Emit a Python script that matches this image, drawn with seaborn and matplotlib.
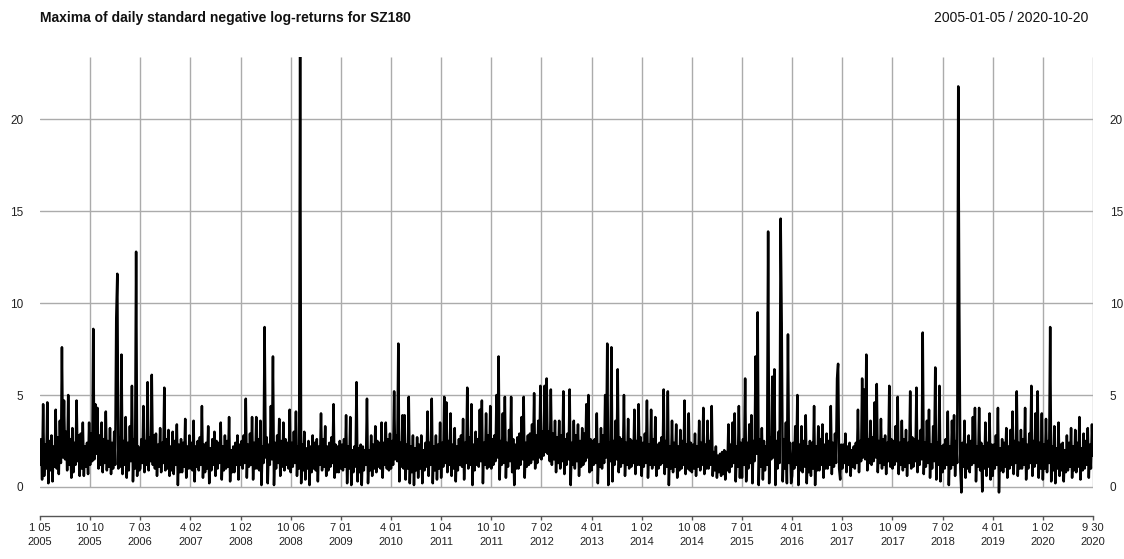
import numpy as np
import pandas as pd
import matplotlib
matplotlib.use("Agg")
import matplotlib.pyplot as plt
import seaborn as sns

title = "Maxima of daily standard negative log-returns for SZ180"
date_range = "2005-01-05 / 2020-10-20"

tick_labels = ["1 05\n2005", "10 10\n2005", "7 03\n2006", "4 02\n2007", "1 02\n2008",
               "10 06\n2008", "7 01\n2009", "4 01\n2010", "1 04\n2011", "10 10\n2011",
               "7 02\n2012", "4 01\n2013", "1 02\n2014", "10 08\n2014", "7 01\n2015",
               "4 01\n2016", "1 03\n2017", "10 09\n2017", "7 02\n2018", "4 01\n2019",
               "1 02\n2020", "9 30\n2020"]
y_ticks = [0, 5, 10, 15, 20]

# values, one list per labelled interval
v_2005_01 = [1.2, 2.6, 0.4, 4.5, 0.6, 2.3, 1.0, 4.6, 0.2, 2.5, 0.9, 2.8, 0.3, 2.2, 1.1, 4.2,
             1.0, 2.7, 0.7, 3.6, 1.3, 7.6, 1.6, 4.7, 1.5, 3.0, 0.9, 5.0, 1.2, 2.6, 0.5, 3.2,
             0.8, 2.4, 1.2, 4.7, 1.4, 2.8, 0.6, 2.9, 1.0, 3.5, 0.6, 2.2, 1.1, 2.4, 0.7, 3.5]
v_2005_10 = [1.2, 2.9, 1.4, 8.6, 1.5, 4.5, 1.8, 4.3, 1.0, 2.8, 1.2, 3.5, 0.8, 2.6, 1.3, 4.1,
             0.9, 2.5, 1.1, 3.2, 0.7, 2.4, 1.0, 3.0, 1.2, 9.2, 11.6, 1.0, 2.7, 1.1, 7.2, 0.7,
             2.5, 1.2, 3.8, 0.5, 2.4, 0.9, 3.3, 1.4, 5.5, 0.3, 2.6, 1.0, 12.8, 0.6, 2.2, 0.9]
v_2006_07 = [1.0, 2.6, 1.3, 4.4, 0.8, 2.5, 1.2, 5.7, 0.9, 2.7, 1.4, 6.1, 1.2, 2.8, 1.0, 2.9,
             0.6, 2.3, 1.1, 3.2, 0.8, 2.4, 1.3, 5.4, 0.9, 2.6, 1.0, 3.1, 0.6, 2.2, 0.9, 3.0,
             0.7, 2.5, 1.2, 3.4, 0.1, 2.3, 0.8, 2.6, 0.8, 2.4, 1.1, 3.7, 0.5, 2.2, 1.0, 2.8]
v_2007_04 = [1.0, 2.4, 0.9, 3.6, 0.3, 2.2, 1.1, 2.5, 0.9, 2.7, 1.2, 4.4, 0.5, 2.3, 0.8, 2.4,
             1.0, 3.3, 0.2, 2.1, 0.9, 2.6, 1.2, 3.0, 0.6, 2.5, 1.0, 2.4, 1.3, 3.5, 0.4, 2.2,
             0.9, 2.8, 1.0, 2.5, 1.1, 3.8, 0.3, 2.0, 0.8, 2.2, 0.8, 2.4, 1.2, 2.8, 0.4, 2.3]
v_2008_01 = [1.2, 2.5, 1.0, 2.8, 1.3, 4.8, 0.5, 2.3, 1.1, 2.9, 1.2, 3.8, 0.4, 2.4, 1.0, 3.8,
             1.0, 2.6, 0.9, 3.6, 0.1, 2.2, 1.3, 8.7, 1.6, 2.7, 0.2, 2.3, 1.2, 4.4, 1.5, 7.1,
             0.1, 2.4, 1.0, 2.8, 1.3, 3.7, 0.6, 2.5, 1.1, 3.5, 0.9, 2.6, 1.2, 2.4, 1.0, 4.2]
v_2008_10 = [0.8, 2.4, 1.1, 3.0, 1.3, 4.1, 0.6, 2.2, 1.0, 23.4, 0.2, 2.3, 0.9, 3.0, 0.4, 2.1,
             1.0, 2.5, 0.1, 2.2, 0.8, 2.8, 1.0, 2.4, 0.9, 2.6, 0.3, 2.2, 1.2, 4.0, 0.9, 2.6,
             1.1, 3.3, 0.6, 2.2, 0.9, 2.4, 1.1, 2.7, 1.3, 4.5, 0.5, 2.3, 0.8, 2.2, 0.8, 2.5]
v_2009_07 = [1.0, 2.3, 0.9, 2.6, 1.1, 3.9, 0.2, 2.2, 1.0, 3.8, 0.1, 2.0, 0.8, 2.2, 1.1, 5.7,
             0.3, 2.1, 0.8, 2.3, 0.1, 2.2, 0.9, 2.0, 1.2, 4.8, 0.2, 2.0, 0.9, 2.8, 0.6, 2.3,
             1.0, 3.3, 0.8, 2.5, 1.1, 2.4, 1.0, 3.5, 0.5, 2.4, 1.2, 3.5, 1.0, 2.6, 0.9, 2.9]
v_2010_04 = [1.0, 2.5, 1.2, 5.2, 1.5, 2.8, 1.4, 7.8, 0.3, 2.4, 1.1, 3.9, 1.0, 3.9, 0.4, 2.3,
             1.0, 4.9, 0.2, 2.2, 0.8, 2.8, 0.1, 2.1, 0.9, 2.7, 0.5, 2.3, 1.0, 2.8, 0.2, 2.0,
             0.9, 2.4, 1.1, 4.1, 0.6, 2.4, 1.2, 4.8, 0.2, 2.2, 0.9, 2.8, 0.4, 2.3, 1.0, 3.5]
v_2011_01 = [0.5, 2.4, 1.1, 4.9, 1.3, 4.6, 0.8, 2.5, 1.2, 4.0, 0.6, 2.3, 1.0, 3.2, 0.3, 2.2,
             0.9, 2.6, 1.2, 2.8, 1.1, 3.7, 0.4, 2.4, 1.3, 5.4, 1.0, 2.7, 1.2, 4.5, 0.1, 2.3,
             0.9, 3.0, 1.2, 2.6, 1.1, 4.2, 1.4, 4.7, 0.2, 2.4, 1.2, 4.0, 1.0, 2.8, 1.1, 4.4]
v_2011_10 = [1.0, 2.6, 1.2, 2.8, 1.4, 5.0, 1.6, 7.1, 0.4, 2.5, 1.2, 4.0, 1.3, 4.9, 0.5, 2.4,
             1.1, 3.1, 1.4, 4.9, 0.8, 2.6, 0.1, 2.3, 1.0, 2.7, 1.0, 2.9, 1.2, 3.8, 1.5, 4.9,
             0.5, 2.4, 1.1, 2.8, 1.2, 2.9, 1.3, 3.4, 1.5, 5.1, 1.0, 2.8, 1.3, 3.6, 1.6, 5.5]
v_2012_07 = [1.5, 3.0, 1.7, 5.5, 1.9, 5.9, 1.8, 3.0, 1.4, 5.3, 1.2, 2.9, 1.5, 3.6, 0.8, 2.7,
             1.3, 3.6, 1.0, 2.8, 1.4, 5.2, 0.7, 2.6, 1.2, 2.9, 1.5, 5.3, 0.1, 2.4, 1.2, 3.6,
             1.0, 2.8, 1.4, 3.4, 0.6, 2.5, 1.1, 3.2, 1.2, 2.9, 1.4, 4.5, 1.6, 5.0, 0.8, 2.6]
v_2013_04 = [0.9, 2.5, 1.2, 2.6, 1.3, 4.0, 0.2, 2.3, 1.1, 3.2, 1.0, 2.8, 1.3, 5.0, 1.6, 7.8,
             0.1, 2.4, 1.4, 7.6, 0.3, 2.5, 1.2, 3.6, 1.5, 6.4, 0.8, 2.7, 1.1, 2.6, 1.3, 5.0,
             0.6, 2.4, 1.2, 3.7, 1.0, 2.6, 1.1, 2.5, 1.3, 4.2, 0.7, 2.5, 1.2, 4.5, 1.2, 2.7]
v_2014_01 = [0.6, 2.4, 1.1, 2.9, 1.3, 4.7, 0.5, 2.3, 1.2, 4.2, 1.0, 2.6, 1.2, 3.8, 0.6, 2.3,
             1.0, 2.4, 1.2, 2.7, 1.3, 5.3, 0.7, 2.5, 1.1, 5.2, 0.1, 2.2, 1.0, 3.6, 0.8, 2.4,
             1.1, 3.4, 0.5, 2.2, 0.9, 3.1, 1.0, 2.5, 1.2, 4.7, 0.7, 2.3, 1.0, 4.0, 0.9, 2.4]
v_2014_10 = [0.8, 2.3, 1.0, 2.9, 0.6, 2.2, 1.1, 3.6, 0.9, 2.4, 1.2, 4.3, 0.7, 2.3, 1.0, 3.6,
             1.0, 2.5, 1.2, 4.4, 0.6, 1.9, 0.9, 2.2, 0.5, 1.7, 0.8, 1.8, 0.6, 1.9, 0.7, 2.0,
             0.4, 1.9, 0.9, 3.4, 0.8, 2.3, 1.1, 3.5, 1.3, 4.0, 0.3, 2.2, 1.1, 4.4, 0.5, 2.4]
v_2015_07 = [0.5, 2.6, 1.2, 5.9, 0.3, 2.4, 1.0, 3.4, 1.3, 3.9, 0.2, 2.5, 1.4, 7.1, 1.8, 9.5,
             0.1, 2.6, 1.1, 3.2, 0.4, 2.5, 0.9, 2.2, 1.2, 13.9, 0.2, 2.7, 1.5, 6.0, 1.6, 6.4,
             0.1, 2.5, 1.0, 3.0, 1.3, 14.6, 8.9, 0.3, 2.6, 1.0, 3.5, 0.2, 8.3, 1.3, 2.4, 0.2]
v_2016_04 = [0.6, 2.4, 1.0, 3.3, 1.2, 5.0, 0.1, 2.3, 0.9, 3.3, 0.8, 2.5, 1.1, 3.9, 0.2, 2.2,
             0.8, 2.5, 0.6, 2.4, 1.0, 4.4, 0.1, 2.2, 0.9, 3.3, 0.9, 2.6, 1.2, 3.4, 0.5, 2.3,
             1.0, 2.9, 1.0, 2.5, 1.2, 4.4, 0.7, 2.4, 1.1, 2.9, 1.3, 5.9, 6.7, 1.0, 0.4, 2.3]
v_2017_01 = [1.0, 2.3, 1.3, 2.9, 0.8, 2.2, 1.2, 2.4, 0.6, 2.0, 1.1, 2.2, 1.0, 2.4, 1.3, 4.2,
             0.8, 2.5, 1.4, 5.9, 1.6, 5.3, 1.5, 7.2, 0.9, 2.6, 1.3, 3.6, 1.2, 2.7, 1.4, 4.6,
             1.6, 5.6, 0.8, 2.5, 1.3, 3.7, 1.0, 2.6, 1.2, 2.8, 0.7, 2.4, 1.4, 5.5, 1.1, 2.6]
v_2017_10 = [1.0, 2.5, 1.2, 3.3, 1.4, 4.9, 0.7, 2.4, 1.2, 3.6, 0.9, 2.6, 1.1, 3.1, 0.6, 2.4,
             1.3, 5.2, 1.0, 2.7, 1.1, 2.6, 1.4, 5.4, 0.8, 2.5, 1.2, 3.1, 1.5, 8.4, 0.7, 2.4,
             1.1, 3.6, 1.3, 4.2, 0.5, 2.3, 1.0, 3.3, 1.4, 6.5, 0.4, 2.4, 1.2, 5.5, 0.3, 2.2]
v_2018_07 = [0.8, 2.3, 1.0, 2.6, 1.2, 4.1, 0.1, 2.2, 1.0, 3.6, 1.2, 3.9, 0.6, 2.5, 1.3, 21.8,
             9.7, 1.0, -0.3, 2.4, 1.1, 3.6, 0.5, 2.3, 1.0, 2.8, 0.8, 2.5, 1.2, 3.8, 1.3, 4.3,
             0.3, 2.2, 1.1, 4.3, 0.9, 2.4, -0.25, 2.2, 1.0, 3.5, 0.6, 2.4, 1.1, 4.0, 0.4, 2.3]
v_2019_04 = [0.6, 2.3, 1.0, 2.8, 1.2, 4.3, -0.3, 2.1, 0.9, 2.6, 0.8, 2.4, 1.1, 3.2, 0.5, 2.2,
             1.0, 3.1, 1.2, 4.1, 0.7, 2.5, 1.3, 5.2, 0.6, 2.4, 1.0, 3.1, 1.0, 2.6, 1.2, 4.3,
             0.4, 2.3, 1.0, 2.9, 1.3, 5.5, 0.6, 2.5, 1.1, 4.0, 1.3, 5.2, 0.5, 2.4, 1.0, 4.0]
v_2020_01 = [0.4, 2.3, 1.0, 3.7, 0.8, 2.5, 1.3, 8.7, 0.3, 2.2, 0.9, 3.3, 0.2, 2.1, 1.0, 3.5,
             0.6, 2.3, 0.9, 2.4, 0.3, 2.0, 0.8, 2.8, 0.9, 2.4, 1.1, 3.2, 0.5, 2.2, 0.9, 3.1,
             0.8, 2.4, 1.1, 3.8, 0.4, 2.1, 0.9, 2.9, 1.0, 2.5, 1.2, 3.2, 0.5, 2.3, 1.0, 3.4]
v_2020_10 = [1.7]

segments = [v_2005_01, v_2005_10, v_2006_07, v_2007_04, v_2008_01, v_2008_10,
            v_2009_07, v_2010_04, v_2011_01, v_2011_10, v_2012_07, v_2013_04,
            v_2014_01, v_2014_10, v_2015_07, v_2016_04, v_2017_01, v_2017_10,
            v_2018_07, v_2019_04, v_2020_01, v_2020_10]

values = np.concatenate([np.asarray(s, dtype=float) for s in segments])
tick_pos = list(np.cumsum([0] + [len(s) for s in segments[:-1]]))
df = pd.DataFrame({"obs": np.arange(len(values)), "value": values})

sns.set_theme(style="white")
plt.rcParams["font.family"] = ["Liberation Sans", "DejaVu Sans"]

W, H = 1124, 559
fig = plt.figure(figsize=(W / 100, H / 100), dpi=100)
fig.patch.set_facecolor("white")
left_px, right_px, top_px, bottom_px = 40, 1093, 57, 497
ax = fig.add_axes([left_px / W, 1 - bottom_px / H, (right_px - left_px) / W, (bottom_px - top_px) / H])
ax.set_facecolor("white")

ymax = float(values.max())
grid_c = "#ababab"
for yv in y_ticks:
    ax.axhline(yv, color=grid_c, lw=1.0, zorder=0)
ax.vlines(tick_pos[1:], 0, ymax, colors=grid_c, lw=1.0, zorder=0)

sns.lineplot(data=df, x="obs", y="value", ax=ax, color="black", linewidth=1.8,
             estimator=None, zorder=3)

ax.set_xlim(0, len(values) - 1)
ax.set_ylim(-0.55, ymax)

for s in ["top", "left", "right"]:
    ax.spines[s].set_visible(False)
ax.spines["bottom"].set_position(("outward", 13.7))
ax.spines["bottom"].set_color("#555555")
ax.spines["bottom"].set_linewidth(1.0)

ax.set_xticks(tick_pos)
ax.set_xticklabels(tick_labels, linespacing=1.45, fontsize=8, color="#222222")
ax.tick_params(axis="x", direction="out", length=3, width=1, color="#555555", pad=2,
               bottom=True)
ax.set_yticks(y_ticks)
ax.set_yticklabels([str(v) for v in y_ticks])
ax.tick_params(axis="y", length=0, pad=12, labelleft=True, labelright=True,
               labelsize=8.5, labelcolor="#222222")
ax.set_xlabel("")
ax.set_ylabel("")
ax.grid(False)

fig.text(40 / W, 1 - 18 / H, title, fontsize=10, fontweight="bold", ha="left", va="center",
         color="#111111")
fig.text(1088 / W, 1 - 18 / H, date_range, fontsize=10, ha="right", va="center",
         color="#111111")

fig.savefig("out.png", dpi=100, facecolor="white")
